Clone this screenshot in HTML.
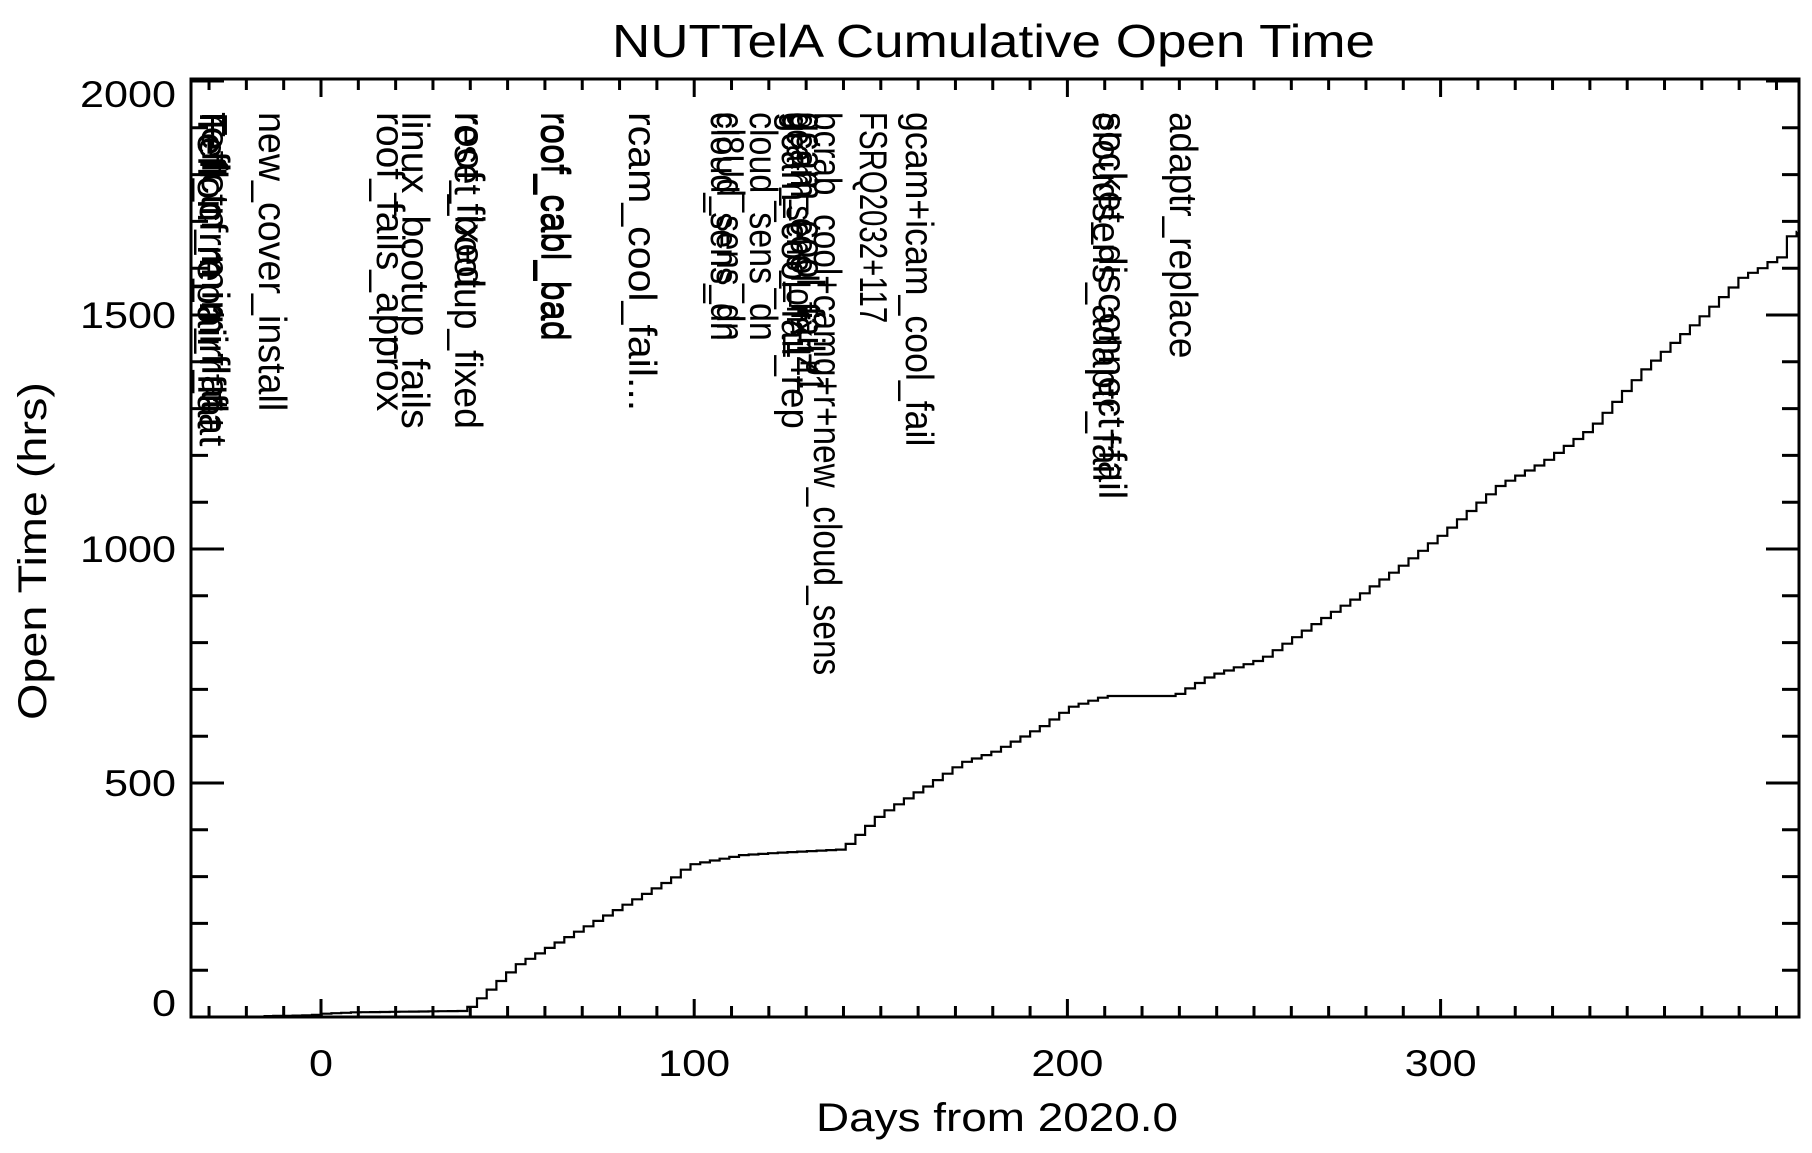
<!DOCTYPE html>
<html><head><meta charset="utf-8"><style>
html,body{margin:0;padding:0;background:#fff;}
svg text{font-family:"Liberation Sans",sans-serif;fill:#000;}
</style></head><body>
<svg id="s" width="1812" height="1148" xmlns="http://www.w3.org/2000/svg">
<rect width="1812" height="1148" fill="#fff"/>
<text x="612" y="57" font-size="46" textLength="763" lengthAdjust="spacingAndGlyphs">NUTTelA Cumulative Open Time</text>
<text x="816" y="1131" font-size="40" textLength="362" lengthAdjust="spacingAndGlyphs">Days from 2020.0</text>
<text transform="translate(46,720) rotate(-90)" font-size="40" textLength="338" lengthAdjust="spacingAndGlyphs">Open Time (hrs)</text>
<g id="ax" stroke="#000" stroke-width="3" fill="none"></g>
<g id="lbl" font-size="37"></g>
<g id="ann" font-size="39"></g>
<path id="curve" stroke="#000" stroke-width="2.2" fill="none"/>
</svg>
<script>
var NS="http://www.w3.org/2000/svg";
var L=191,R=1799,T=79,B=1017;
function X(d){return 321+3.732*d;}
function Y(h){return 1017-0.468*h;}
var ax=document.getElementById('ax'),p="";
p+="M"+L+" "+T+"H"+R+"V"+B+"H"+L+"Z";
for(var d=-30;d<=390;d+=10){var x=X(d),len=(d%100==0)?18:11;
 p+="M"+x+" "+B+"v"+(-len)+"M"+x+" "+T+"v"+len;}
for(var h=0;h<=2000;h+=100){var y=Y(h),len=(h%500==0)?33:17;
 p+="M"+L+" "+y+"h"+len+"M"+R+" "+y+"h"+(-len);}
var pe=document.createElementNS(NS,'path');pe.setAttribute('d',p);ax.appendChild(pe);
var lbl=document.getElementById('lbl');
function txt(par,x,y,s,attrs){var t=document.createElementNS(NS,'text');t.setAttribute('x',x);t.setAttribute('y',y);for(var k in attrs)t.setAttribute(k,attrs[k]);t.textContent=s;par.appendChild(t);return t;}
[0,100,200,300].forEach(function(v){var s=""+v;txt(lbl,X(v),1076,s,{'text-anchor':'middle',textLength:s.length*24,lengthAdjust:'spacingAndGlyphs'});});
[[0,1016],[500,796],[1000,562],[1500,328],[2000,107]].forEach(function(a){var s=""+a[0];txt(lbl,176,a[1],s,{'text-anchor':'end',textLength:s.length*24,lengthAdjust:'spacingAndGlyphs'});});
var ann=document.getElementById('ann');
var A=[[191,"Teflon_repair_flat"],[195,"reflctn_mirr_flat"],[193,"Fefl_cfrm_mirr_flat"],
[252,"new_cover_install"],[370,"roof_fails_approx"],[395,"linux_bootup_fails"],
[448,"reset_bootup_fixed"],[450,"roof_fixed"],[534,"roof_cabl_bad"],[536,"roof_cabl_bad"],
[622,"rcam_cool_fail..."],[704,"cloud_sens_dn"],[710,"cl8Ud_sens_dn"],[743,"cloud_sens_dn"],
[775,"gcam_cool_fail_rep"],[780,"gcam_sens_on+1"],[784,"gcam_cool_fix_4"],[790,"gcam_cool_fail+1"],
[807,"bcrab_cool+camg+r+new_cloud_sens"],[853,"FSRQ2032+117"],[899,"gcam+icam_cool_fail"],
[1086,"cloudsens_adaptr_fail"],[1092,"socket_disconnect+fail"],[1163,"adaptr_replace"]];
A.forEach(function(a){var x=a[0]+7,y=112;txt(ann,0,0,a[1],{transform:"translate("+x+","+y+") rotate(90)",textLength:(a[1].length*17.6).toFixed(1),lengthAdjust:'spacingAndGlyphs'});});
var K=[[-15.4,2],[-7,3],[-1,5],[0,7],[8,10],[38,13],[51.8,111],[65.7,173],[79.7,235],[93.6,297],[98,325],[112,346],[124,352],[139,358],[149,432],[161.7,494],[171,543],[180,568],[192.7,622],[200,662],[209.7,686],[228,686],[237.6,729],[251.5,765],[265.5,840],[277.8,902],[288.6,963],[299.5,1030],[315,1136],[327,1186],[339.8,1259],[353.7,1383],[369,1494],[380,1581],[385,1600],[389,1620],[391,1625],[392.5,1667],[395.5,1678]];
function hAt(d){for(var i=1;i<K.length;i++){if(d<=K[i][0]){var a=K[i-1],b=K[i];return a[1]+(b[1]-a[1])*(d-a[0])/(b[0]-a[0]);}}return K[K.length-1][1];}
var q="M"+X(K[0][0]).toFixed(1)+" "+Y(K[0][1]).toFixed(1);
for(var d=K[0][0]+2.6;d<=395.5;d+=2.6){var h=hAt(d);q+="H"+X(d).toFixed(1)+"V"+Y(h).toFixed(1);}
q+="H"+X(395.5).toFixed(1)+"V"+Y(1678).toFixed(1);
document.getElementById('curve').setAttribute('d',q);
</script>
</body></html>
